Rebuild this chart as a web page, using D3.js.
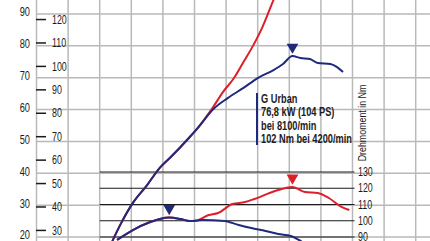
<!DOCTYPE html>
<html>
<head>
<meta charset="utf-8">
<script src="https://cdn.jsdelivr.net/npm/d3@7"></script>
<style>
    html, body { margin: 0; padding: 0; background: #fff; }
    svg { display: block; overflow: hidden; }
    text { font-family: "Liberation Sans", Arial, sans-serif; fill: #1b1b22; }
</style>
</head>
<body>
<svg id="chart" width="430" height="241"></svg>
<script>
'use strict';

/* global d3 */

// ticks
var rpmGrid = d3.range(0, 13001, 1000);
var kwTicks = [90, 80, 70, 60, 50, 40, 30, 20];
var psTicks = [120, 110, 100, 90, 80, 70, 60, 50, 40, 30];
var nmTicks = [130, 120, 110, 100, 90];

// G Urban (blue) power in kW
var bluePowerRpm = [2400, 2650, 3050, 3500, 3900, 4250, 4850, 5100, 5600, 6050, 6550, 7000, 7500, 7800, 8100, 8350, 8650, 8900, 9300, 9500, 9700];
var bluePowerKw = [18.7, 23.8, 30.7, 36.3, 41.7, 45.1, 51.4, 54.2, 60.2, 63.6, 66.8, 69.9, 72.4, 74.3, 76.8, 76.2, 75.9, 74.6, 74.3, 73.4, 71.8];

// comparison (red) power in kW
var redPowerRpm = [2400, 2650, 3050, 3500, 3900, 4250, 4850, 5100, 5550, 5900, 6250, 6550, 6850, 7150, 7500, 7700];
var redPowerKw = [18.7, 23.8, 30.7, 36.3, 41.7, 45.1, 51.4, 54.2, 60.2, 65.5, 69.9, 74.9, 80.0, 85.9, 94.4, 99.1];

// torque in Nm
var blueTorqueRpm = [2550, 3050, 3600, 3900, 4200, 4550, 4850, 5250, 5950, 6400, 6800, 7250, 7650, 8050, 8300, 8500];
var blueTorqueNm = [88.2, 94.3, 99.2, 101.1, 102, 101.1, 99.8, 100.5, 99.8, 97.4, 95.5, 93.7, 91.8, 90.6, 88.2, 85.7];

var redTorqueRpm = [2550, 3050, 3600, 3900, 4200, 4550, 4850, 5000, 5450, 5750, 6200, 6600, 6900, 7550, 8100, 8500, 8900, 9250, 9650, 9900];
var redTorqueNm = [88.2, 94.3, 99.2, 101.1, 102, 101.1, 99.8, 99.8, 103.5, 104.8, 110.3, 111.5, 113.4, 118.3, 120.8, 117.7, 117.1, 114.0, 108.5, 106.6];

// peak markers
var peakRpm = [8100, 4200, 8100];
var peakValue = [76.8, 102, 120.8];
var peakUnit = ["kw", "nm", "nm"];
var peakColor = ["blue", "blue", "red"];

var noteLines = ["G Urban", "76,8 kW (104 PS)", "bei 8100/min", "102 Nm bei 4200/min"];
var torqueTitle = "Drehmoment in Nm";

var BLUE = "#1f2a7c";
var RED = "#dc1f2b";
var GRID = "#b9b9b9";
var NARROW = 0.74;   // condensed type look

var svg = d3.select("#chart");

var x = d3.scaleLinear().domain([0, 12000]).range([36.5, 415.7]);
var yKw = d3.scaleLinear().domain([20, 90]).range([237, 14]);
var yPs = d3.scaleLinear().domain([20 * 1.35962, 90 * 1.35962]).range([237, 14]);
var yNm = d3.scaleLinear().domain([90, 130]).range([237, 172]);

function zip(a, b) {
    return a.map(function (v, i) { return [v, b[i]]; });
}

function place(px, py) {
    return "translate(" + px + "," + py + ") scale(" + NARROW + ",1)";
}

function drawGrid() {
    var g = svg.append("g").attr("class", "grid");

    g.selectAll("line.v")
        .data(rpmGrid)
        .enter()
        .append("line")
        .attr("class", "v")
        .attr("x1", function (d) { return x(d); })
        .attr("x2", function (d) { return x(d); })
        .attr("y1", 0)
        .attr("y2", 241)
        .attr("stroke", GRID)
        .attr("stroke-width", 1.5);

    g.selectAll("line.h")
        .data(kwTicks)
        .enter()
        .append("line")
        .attr("class", "h")
        .attr("x1", x(0))
        .attr("x2", 430)
        .attr("y1", function (d) { return yKw(d); })
        .attr("y2", function (d) { return yKw(d); })
        .attr("stroke", GRID)
        .attr("stroke-width", 1.5);

    // torque scale lines
    g.selectAll("line.nm")
        .data(nmTicks)
        .enter()
        .append("line")
        .attr("class", "nm")
        .attr("x1", x(2000))
        .attr("x2", x(10000) + 2)
        .attr("y1", function (d) { return yNm(d); })
        .attr("y2", function (d) { return yNm(d); })
        .attr("stroke", "#1a1a1a")
        .attr("stroke-width", 1.1);
}

function drawAxes() {
    var g = svg.append("g").attr("class", "axes");

    g.selectAll("text.kw")
        .data(kwTicks)
        .enter()
        .append("text")
        .attr("class", "kw")
        .attr("transform", function (d) { return place(30, yKw(d) - 2); })
        .attr("dy", "0.35em")
        .attr("text-anchor", "end")
        .attr("font-size", 12.5)
        .text(function (d) { return d; });

    g.selectAll("line.ps")
        .data(psTicks)
        .enter()
        .append("line")
        .attr("class", "ps")
        .attr("x1", 36)
        .attr("x2", 46)
        .attr("y1", function (d) { return yPs(d); })
        .attr("y2", function (d) { return yPs(d); })
        .attr("stroke", "#1a1a1a")
        .attr("stroke-width", 1.5);

    g.selectAll("text.ps")
        .data(psTicks)
        .enter()
        .append("text")
        .attr("class", "ps")
        .attr("transform", function (d) { return place(52, yPs(d)); })
        .attr("dy", "0.35em")
        .attr("font-size", 12)
        .text(function (d) { return d; });

    g.selectAll("text.nm")
        .data(nmTicks)
        .enter()
        .append("text")
        .attr("class", "nm")
        .attr("transform", function (d) { return place(358, yNm(d)); })
        .attr("dy", "0.35em")
        .attr("font-size", 12)
        .text(function (d) { return d; });

    g.append("text")
        .attr("transform", "translate(366,123) rotate(-90) scale(0.77,1)")
        .attr("text-anchor", "middle")
        .attr("font-size", 11.5)
        .text(torqueTitle);
}

function drawCurve(rpm, vals, yScale, color) {
    var line = d3.line()
        .x(function (d) { return x(d[0]); })
        .y(function (d) { return yScale(d[1]); })
        .curve(d3.curveMonotoneX);

    svg.append("path")
        .datum(zip(rpm, vals))
        .attr("d", line)
        .attr("fill", "none")
        .attr("stroke", color)
        .attr("stroke-width", 2)
        .attr("stroke-linejoin", "round");
}

function drawMarkers() {
    var tri = d3.symbol().type(d3.symbolTriangle).size(60);

    svg.selectAll("path.peak")
        .data(peakRpm)
        .enter()
        .append("path")
        .attr("class", "peak")
        .attr("d", tri)
        .attr("transform", function (d, i) {
            var sc = peakUnit[i] === "kw" ? yKw : yNm;
            return "translate(" + x(d) + "," + (sc(peakValue[i]) - 9) + ") rotate(180)";
        })
        .attr("fill", function (d, i) { return peakColor[i] === "red" ? RED : BLUE; });
}

function drawNote() {
    var g = svg.append("g").attr("class", "note");

    g.append("line")
        .attr("x1", 257)
        .attr("x2", 257)
        .attr("y1", 93)
        .attr("y2", 145)
        .attr("stroke", BLUE)
        .attr("stroke-width", 2);

    g.selectAll("text")
        .data(noteLines)
        .enter()
        .append("text")
        .attr("transform", function (d, i) { return place(261, 103 + i * 13.3); })
        .attr("font-size", 12.5)
        .attr("font-weight", "bold")
        .text(function (d) { return d; });
}

drawGrid();
drawAxes();
drawCurve(redPowerRpm, redPowerKw, yKw, RED);
drawCurve(bluePowerRpm, bluePowerKw, yKw, BLUE);
drawCurve(redTorqueRpm, redTorqueNm, yNm, RED);
drawCurve(blueTorqueRpm, blueTorqueNm, yNm, BLUE);
drawMarkers();
drawNote();
</script>
</body>
</html>
